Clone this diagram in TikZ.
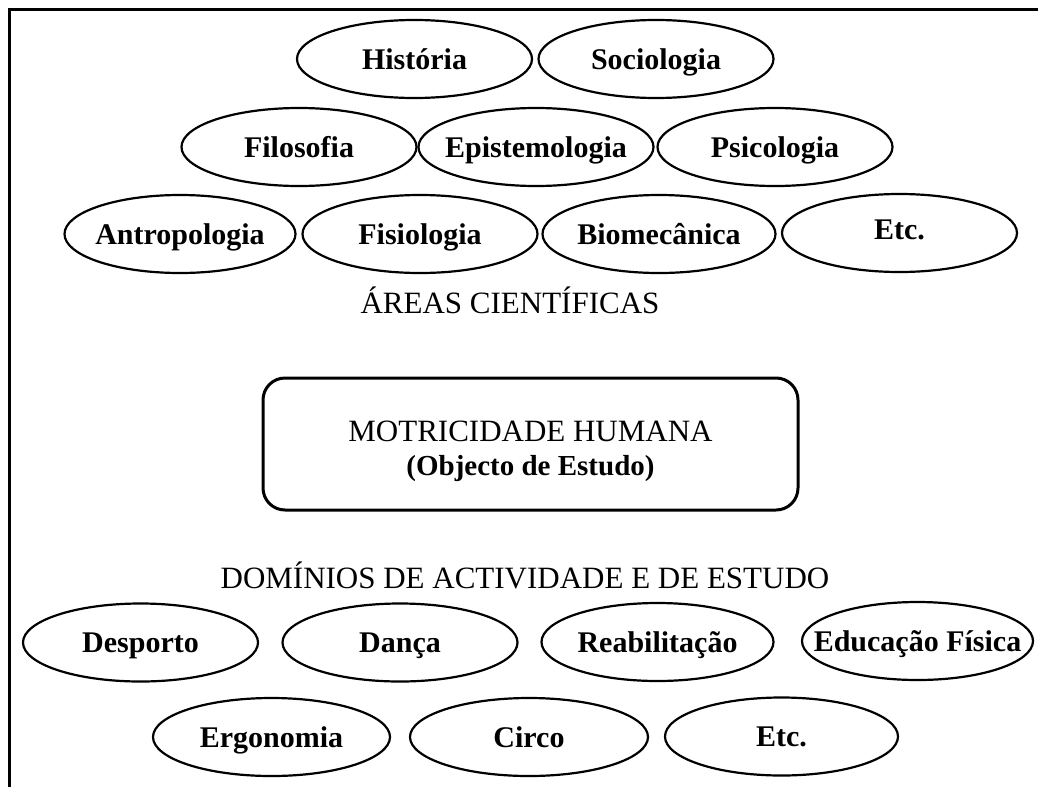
\documentclass[tikz,border=0pt]{standalone}
\usepackage{fontspec}
\setmainfont{Liberation Serif}
\usetikzlibrary{shapes.geometric}
\newcommand\ellab[1]{\makebox[0pt]{#1}}
\tikzset{
  area/.style={draw, ellipse, line width=2.2pt, inner sep=0pt,
    minimum width=235pt, minimum height=78pt,
    text height=26pt, text depth=6pt,
    font=\bfseries\fontsize{30}{32}\selectfont},
  heading/.style={inner sep=0pt, font=\fontsize{31}{33}\selectfont},
  centrebox/.style={draw, rounded corners=22pt, line width=3pt,
    minimum width=535pt, minimum height=132pt, align=center,
    font=\fontsize{31}{34}\selectfont},
  frameline/.style={line width=2.7pt}
}
\begin{document}
\begin{tikzpicture}[x=1pt,y=-1pt]
\useasboundingbox (0,0) rectangle (1038,787);
\coordinate (fa) at (1038,9.7);
\coordinate (fb) at (9.7,9.7);
\coordinate (fc) at (9.7,787);
\draw[frameline] (fa) -- (fb) -- (fc);

\node[area] (hist) at (414.5,59) {\ellab{História}};
\node[area] (soc) at (656,59) {\ellab{Sociologia}};
\node[area] (fil) at (299,147) {\ellab{Filosofia}};
\node[area] (epi) at (536,147) {\ellab{Epistemologia}};
\node[area] (psi) at (775,147) {\ellab{Psicologia}};
\node[area, minimum width=231pt] (ant) at (180,234) {\ellab{Antropologia}};
\node[area] (fis) at (420,234) {\ellab{Fisiologia}};
\node[area, minimum width=233pt] (bio) at (659,234) {\ellab{Biomecânica}};
\node[area] (etca) at (899.5,233) {\ellab{\raisebox{4pt}{Etc.}}};

\node[heading] (areas) at (510,300) {ÁREAS CIENTÍFICAS};

\node[centrebox] (mot) at (530.5,444) {\rule{0pt}{36pt}MOTRICIDADE HUMANA\\{\bfseries\fontsize{29}{31}\selectfont (Objecto de Estudo)}};

\node[heading] (dom) at (525,575) {DOMÍNIOS DE ACTIVIDADE E DE ESTUDO};

\node[area] (desp) at (140.5,642.5) {\ellab{Desporto}};
\node[area] (danca) at (400,642.5) {\ellab{Dança}};
\node[area, minimum width=232pt] (reab) at (657.5,642) {\ellab{Reabilitação}};
\node[area, minimum width=231pt] (edf) at (917.5,641) {\ellab{Educação Física}};
\node[area, minimum width=237pt] (ergo) at (271.5,737) {\ellab{Ergonomia}};
\node[area, minimum width=238pt] (circo) at (529,737) {\ellab{Circo}};
\node[area, minimum width=233pt] (etcb) at (781.5,736.5) {\ellab{Etc.}};
\end{tikzpicture}
\end{document}
